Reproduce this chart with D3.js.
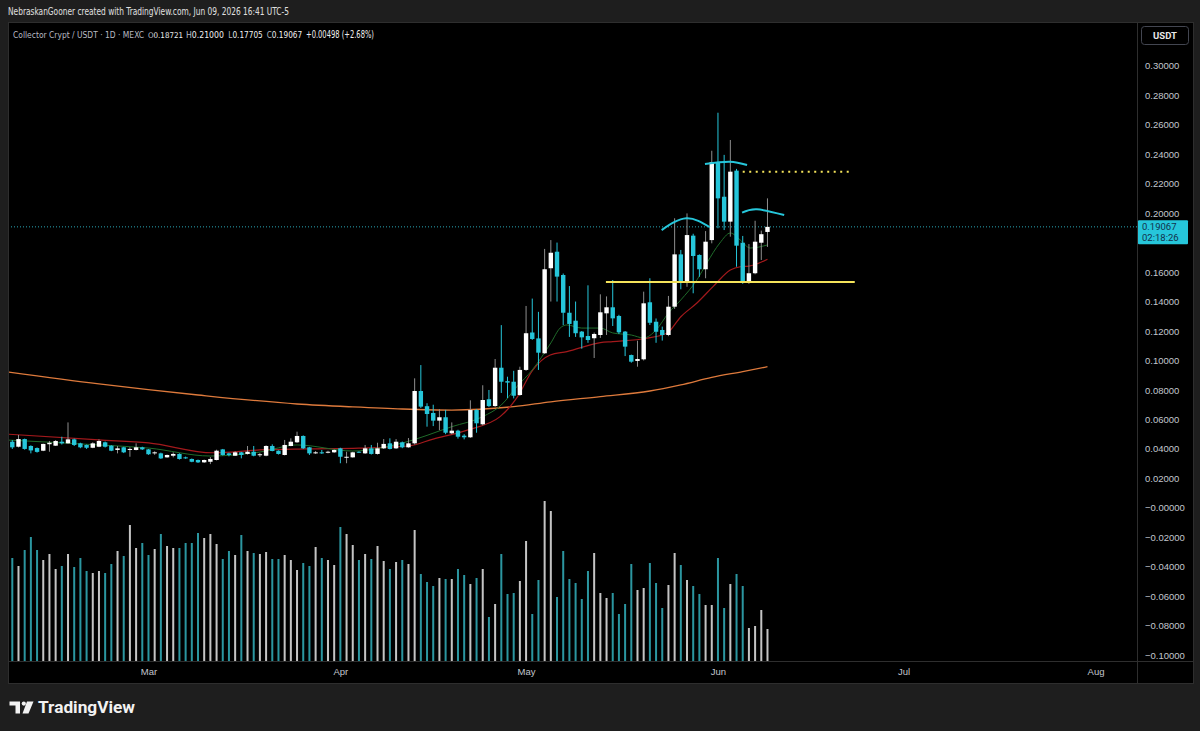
<!DOCTYPE html>
<html>
<head>
<meta charset="utf-8">
<script src="https://cdn.jsdelivr.net/npm/d3@7"></script>
<style>
body { margin: 0; background: #1e1e1e; }
svg { display: block; font-family: Roboto, "Liberation Sans", sans-serif; }
.narrow { font-family: "Liberation Sans Narrow", "DejaVu Sans Condensed", Roboto, sans-serif; }
</style>
</head>
<body>
<svg id="chart" width="1200" height="731"></svg>
<script>
// ---------------------------- DATA ----------------------------
// One daily candle per entry, starting Feb 07 2026 and ending Jun 09 2026
const firstDay = "2026-02-07";

const opens = [
  0.0449, 0.0415, 0.0467, 0.0420, 0.0406, 0.0388, 0.0432, 0.0422, 0.0449, 0.0438,
  0.0465, 0.0438, 0.0427, 0.0408, 0.0415, 0.0445, 0.0422, 0.0393, 0.0411, 0.0393,
  0.0393, 0.0411, 0.0397, 0.0370, 0.0370, 0.0343, 0.0354, 0.0366, 0.0343, 0.0332,
  0.0325, 0.0309, 0.0313, 0.0325, 0.0397, 0.0370, 0.0354, 0.0377, 0.0366, 0.0381,
  0.0359, 0.0354, 0.0420, 0.0388, 0.0359, 0.0420, 0.0445, 0.0488, 0.0411, 0.0370,
  0.0377, 0.0375, 0.0377, 0.0404, 0.0341, 0.0343, 0.0381, 0.0370, 0.0404, 0.0366,
  0.0404, 0.0438, 0.0404, 0.0445, 0.0411, 0.0438, 0.0793, 0.0690, 0.0644, 0.0592,
  0.0615, 0.0506, 0.0524, 0.0490, 0.0479, 0.0664, 0.0567, 0.0737, 0.0691, 0.0951,
  0.0860, 0.0856, 0.0766, 0.0936, 0.1190, 0.1150, 0.1049, 0.1626, 0.1738, 0.1580,
  0.1324, 0.1270, 0.1196, 0.1166, 0.1151, 0.1173, 0.1320, 0.1361, 0.1302, 0.1196,
  0.1037, 0.0997, 0.1008, 0.1395, 0.1263, 0.1207, 0.1173, 0.1365, 0.1720, 0.1535,
  0.1847, 0.1716, 0.1619, 0.1817, 0.2342, 0.2111, 0.1942, 0.2288, 0.1799, 0.1535,
  0.1592, 0.1799, 0.18721
];
const highs = [
  0.0460, 0.0495, 0.0470, 0.0425, 0.0410, 0.0436, 0.0454, 0.0460, 0.0483, 0.0580,
  0.0470, 0.0442, 0.0430, 0.0445, 0.0465, 0.0450, 0.0425, 0.0420, 0.0415, 0.0411,
  0.0438, 0.0415, 0.0400, 0.0384, 0.0375, 0.0362, 0.0377, 0.0370, 0.0348, 0.0335,
  0.0328, 0.0328, 0.0345, 0.0395, 0.0400, 0.0375, 0.0384, 0.0380, 0.0420, 0.0420,
  0.0372, 0.0425, 0.0431, 0.0390, 0.0461, 0.0472, 0.0517, 0.0492, 0.0414, 0.0386,
  0.0393, 0.0388, 0.0397, 0.0408, 0.0381, 0.0381, 0.0384, 0.0427, 0.0427, 0.0442,
  0.0467, 0.0472, 0.0467, 0.0450, 0.0474, 0.0879, 0.0969, 0.0710, 0.0700, 0.0670,
  0.0665, 0.0580, 0.0530, 0.0500, 0.0730, 0.0670, 0.0832, 0.0800, 0.1010, 0.1240,
  0.0890, 0.0930, 0.0958, 0.1370, 0.1420, 0.1330, 0.1757, 0.1817, 0.1800, 0.1590,
  0.1505, 0.1400, 0.1200, 0.1510, 0.1190, 0.1449, 0.1435, 0.1546, 0.1310, 0.1200,
  0.1040, 0.1134, 0.1467, 0.1558, 0.1285, 0.1230, 0.1438, 0.1965, 0.1750, 0.1998,
  0.1860, 0.1720, 0.1878, 0.2423, 0.2681, 0.2395, 0.2496, 0.2300, 0.1845, 0.1790,
  0.1948, 0.1881, 0.21000
];
const lows = [
  0.0400, 0.0410, 0.0395, 0.0370, 0.0375, 0.0385, 0.0381, 0.0420, 0.0430, 0.0436,
  0.0420, 0.0405, 0.0400, 0.0405, 0.0412, 0.0410, 0.0385, 0.0370, 0.0372, 0.0347,
  0.0390, 0.0393, 0.0360, 0.0360, 0.0332, 0.0340, 0.0343, 0.0328, 0.0333, 0.0310,
  0.0305, 0.0305, 0.0297, 0.0322, 0.0355, 0.0350, 0.0352, 0.0336, 0.0362, 0.0350,
  0.0345, 0.0350, 0.0384, 0.0362, 0.0356, 0.0418, 0.0440, 0.0400, 0.0359, 0.0366,
  0.0366, 0.0370, 0.0373, 0.0303, 0.0303, 0.0341, 0.0373, 0.0366, 0.0362, 0.0362,
  0.0400, 0.0397, 0.0400, 0.0405, 0.0408, 0.0430, 0.0678, 0.0551, 0.0555, 0.0527,
  0.0500, 0.0500, 0.0470, 0.0465, 0.0475, 0.0510, 0.0560, 0.0685, 0.0685, 0.0780,
  0.0745, 0.0743, 0.0760, 0.0930, 0.1140, 0.0936, 0.1045, 0.1400, 0.1400, 0.1240,
  0.1160, 0.1160, 0.1080, 0.1120, 0.1017, 0.1153, 0.1173, 0.1234, 0.1180, 0.1030,
  0.0985, 0.0958, 0.1000, 0.1241, 0.1120, 0.1135, 0.1165, 0.1350, 0.1483, 0.1500,
  0.1456, 0.1568, 0.1558, 0.1795, 0.1897, 0.1885, 0.1840, 0.1636, 0.1520, 0.1520,
  0.1585, 0.1682, 0.17705
];
const closes = [
  0.0411, 0.0467, 0.0400, 0.0390, 0.0380, 0.0434, 0.0442, 0.0454, 0.0438, 0.0465,
  0.0427, 0.0411, 0.0408, 0.0438, 0.0454, 0.0415, 0.0388, 0.0404, 0.0377, 0.0400,
  0.0411, 0.0397, 0.0364, 0.0377, 0.0336, 0.0359, 0.0366, 0.0332, 0.0336, 0.0313,
  0.0309, 0.0325, 0.0332, 0.0388, 0.0359, 0.0359, 0.0377, 0.0359, 0.0381, 0.0354,
  0.0364, 0.0420, 0.0386, 0.0366, 0.0427, 0.0449, 0.0488, 0.0404, 0.0370, 0.0377,
  0.0370, 0.0381, 0.0393, 0.0347, 0.0347, 0.0377, 0.0377, 0.0404, 0.0366, 0.0404,
  0.0434, 0.0400, 0.0449, 0.0411, 0.0438, 0.0793, 0.0687, 0.0637, 0.0592, 0.0615,
  0.0510, 0.0524, 0.0483, 0.0479, 0.0664, 0.0574, 0.0732, 0.0691, 0.0951, 0.0856,
  0.0850, 0.0761, 0.0936, 0.1185, 0.1146, 0.1053, 0.1619, 0.1731, 0.1569, 0.1324,
  0.1248, 0.1185, 0.1157, 0.1139, 0.1180, 0.1327, 0.1361, 0.1286, 0.1191, 0.1094,
  0.0992, 0.1010, 0.1388, 0.1256, 0.1195, 0.1173, 0.1365, 0.1720, 0.1535, 0.1851,
  0.1709, 0.1619, 0.1806, 0.2345, 0.2100, 0.1942, 0.2281, 0.1779, 0.1535, 0.1592,
  0.1806, 0.18569, 0.19067
];
// volume, arbitrary units (millions)
const volumes = [
  10.3, 9.5, 11.1, 12.4, 11.1, 10.1, 10.7, 9.2, 9.5, 10.7,
  9.4, 10.3, 9.0, 8.8, 9.0, 8.8, 9.7, 11.0, 10.5, 13.6,
  11.3, 11.8, 10.6, 11.2, 12.7, 11.5, 11.3, 11.3, 11.8, 11.8,
  12.8, 12.3, 12.7, 11.7, 10.2, 11.0, 10.6, 12.6, 11.0, 10.8,
  10.7, 10.9, 10.2, 10.2, 10.6, 10.1, 9.1, 9.8, 9.5, 11.4,
  10.3, 10.1, 9.6, 13.4, 12.7, 11.6, 10.1, 10.7, 10.2, 11.5,
  10.0, 9.2, 9.9, 10.1, 9.7, 13.1, 8.7, 7.9, 7.5, 8.3,
  8.2, 8.2, 9.2, 8.6, 7.7, 8.3, 9.2, 4.4, 5.7, 10.7,
  6.7, 6.8, 8.0, 12.0, 4.7, 8.1, 16.0, 15.0, 6.4, 11.0,
  8.2, 7.8, 6.2, 9.0, 10.8, 6.8, 6.3, 6.8, 4.7, 5.7,
  9.7, 7.1, 7.3, 9.8, 7.8, 5.3, 7.6, 10.8, 9.6, 8.1,
  7.5, 6.7, 5.6, 5.6, 10.3, 5.3, 7.7, 8.7, 7.5, 3.3,
  3.5, 5.1, 3.2
];

// Moving averages, [day index, price]
const maFast = [ // dark green
  [-1, 0.0461], [14, 0.0427], [22, 0.0406], [32, 0.0352], [40, 0.0379], [46, 0.0427],
  [55, 0.0386], [63, 0.0440], [71, 0.0551], [76, 0.0619], [79, 0.0698], [81.5, 0.0822],
  [84, 0.0936], [87, 0.1119], [88.5, 0.1220], [89.6, 0.1241], [92, 0.1220], [95, 0.1220],
  [97, 0.1187], [100, 0.1173], [102, 0.1153], [104, 0.1207], [106, 0.1322], [108, 0.1411],
  [110.6, 0.1547], [112.2, 0.1661], [114.3, 0.1797], [116, 0.1865], [117.6, 0.1818],
  [119.2, 0.1763], [122, 0.1784]
];
const maMid = [ // red
  [-1, 0.0501], [14, 0.0461], [22, 0.0441], [32.4, 0.0374], [40, 0.0393], [48, 0.0400],
  [56, 0.0406], [64, 0.0420], [68, 0.0467], [73.5, 0.0528], [78.8, 0.0619], [81.5, 0.0746],
  [84.1, 0.0936], [86.9, 0.1037], [89.6, 0.1060], [95, 0.1121], [97, 0.1128], [102.5, 0.1151],
  [105.8, 0.1187], [108, 0.1297], [110.6, 0.1390], [113.2, 0.1501], [116, 0.1614],
  [117.6, 0.1636], [119, 0.1640], [122, 0.1687]
];
const maSlow = [ // orange
  [-1, 0.0924], [14, 0.0841], [30, 0.0766], [46, 0.0705], [55, 0.0685], [63, 0.0671],
  [71, 0.0664], [81, 0.0687], [87, 0.0720], [95, 0.0755], [103, 0.0793], [108, 0.0835],
  [113, 0.0885], [118, 0.0925], [122, 0.0958]
];

// Drawings: arcs, support line, target line ([day index, price])
const arcs = [
  [[104.9, 0.1885], [108.9, 0.1965], [112.7, 0.1904]],
  [[111.9, 0.2333], [115.9, 0.2349], [118.7, 0.2326]],
  [[117.9, 0.2003], [120.3, 0.2026], [124.7, 0.1987]]
];
const supportLine = [[95.9, 0.1533], [136.1, 0.1533]];
const targetLine = [[118, 0.2281], [135.8, 0.2281]];

// 0.18 is hidden under the last-price label
const priceTicks = d3.range(-5, 16).filter(k => k !== 9).map(k => k * 0.02);

// ---------------------------- SCALES ----------------------------
const svg = d3.select("#chart");
const plotLeft = 8, plotRight = 1137, plotTop = 22, plotBottom = 661;
const dayW = 6.19, x0 = 12.3;
const startDate = new Date(firstDay + "T00:00:00Z");

const xIdx = d3.scaleLinear().domain([0, 182]).range([x0, x0 + 182 * dayW]);
const xTime = d3.scaleUtc()
    .domain([startDate, d3.utcDay.offset(startDate, 182)])
    .range([x0, x0 + 182 * dayW]);
const y = d3.scaleLinear().domain([-0.10, 0.30]).range([655.3, 65.7]);
const yVol = d3.scaleLinear().domain([0, 16.6]).range([plotBottom, 495]);

const candles = opens.map((o, i) => ({ i, o, h: highs[i], l: lows[i], c: closes[i], v: volumes[i] }));

// shrink a text until it fits the width it has in the reference
function fitText(sel, width) {
    const w = sel.node().getComputedTextLength();
    const size = parseFloat(sel.attr("font-size"));
    if (w > width) sel.attr("font-size", (size * width / w).toFixed(2) + "px");
    return sel;
}

// ---------------------------- FRAME ----------------------------
svg.append("rect").attr("x", 0).attr("y", 0).attr("width", 1200).attr("height", 731).attr("fill", "#1e1e1e");
svg.append("rect").attr("x", 8.5).attr("y", 22.5).attr("width", 1185).attr("height", 661)
    .attr("fill", "#000").attr("stroke", "#2e2e2e");
svg.append("line").attr("x1", plotRight + 0.5).attr("x2", plotRight + 0.5).attr("y1", 22).attr("y2", 684).attr("stroke", "#2e2e2e");
svg.append("line").attr("x1", 8).attr("x2", 1193).attr("y1", plotBottom + 0.5).attr("y2", plotBottom + 0.5).attr("stroke", "#2e2e2e");

svg.append("defs").append("clipPath").attr("id", "plotClip")
    .append("rect").attr("x", plotLeft + 1).attr("y", plotTop + 1)
    .attr("width", plotRight - plotLeft - 1).attr("height", plotBottom - plotTop - 1);

const plot = svg.append("g").attr("clip-path", "url(#plotClip)");

// ---------------------------- VOLUME ----------------------------
plot.append("g").selectAll("rect")
    .data(candles)
    .enter()
    .append("rect")
    .attr("x", d => xIdx(d.i) - 1)
    .attr("width", 2)
    .attr("y", d => yVol(d.v))
    .attr("height", d => plotBottom - yVol(d.v))
    .attr("fill", d => d.c >= d.o ? "#c4c4c4" : "#2b96a0");

// ---------------------------- MOVING AVERAGES ----------------------------
const maLine = d3.line().x(d => xIdx(d[0])).y(d => y(d[1])).curve(d3.curveMonotoneX);
plot.append("path").attr("d", maLine(maSlow)).attr("fill", "none").attr("stroke", "#de7a3c").attr("stroke-width", 1.3);
plot.append("path").attr("d", maLine(maMid)).attr("fill", "none").attr("stroke", "#a3191c").attr("stroke-width", 1.2);
plot.append("path").attr("d", maLine(maFast)).attr("fill", "none").attr("stroke", "#1f6b2a").attr("stroke-width", 1);

// ---------------------------- CURRENT PRICE LINE ----------------------------
const lastClose = closes[closes.length - 1];
const prevClose = closes[closes.length - 2];
plot.append("line")
    .attr("x1", plotLeft).attr("x2", plotRight)
    .attr("y1", y(lastClose)).attr("y2", y(lastClose))
    .attr("stroke", "#2aa6b4").attr("stroke-width", 1).attr("stroke-dasharray", "1,2");

// ---------------------------- CANDLES ----------------------------
const bodyW = 4.4;
const candleG = plot.append("g");
candleG.selectAll("line")
    .data(candles)
    .enter()
    .append("line")
    .attr("x1", d => xIdx(d.i)).attr("x2", d => xIdx(d.i))
    .attr("y1", d => y(d.h)).attr("y2", d => y(d.l))
    .attr("stroke", d => d.c >= d.o ? "#8e8e8e" : "#26c6da")
    .attr("stroke-width", 1);
candleG.selectAll("rect")
    .data(candles)
    .enter()
    .append("rect")
    .attr("x", d => xIdx(d.i) - bodyW / 2)
    .attr("width", bodyW)
    .attr("y", d => y(Math.max(d.o, d.c)))
    .attr("height", d => Math.max(1, Math.abs(y(d.o) - y(d.c))))
    .attr("fill", d => d.c >= d.o ? "#ffffff" : "#26c6da");

// ---------------------------- DRAWINGS ----------------------------
const drawLine = d3.line().x(d => xIdx(d[0])).y(d => y(d[1]));
plot.append("path").attr("d", drawLine(supportLine)).attr("stroke", "#f4e35a").attr("stroke-width", 2).attr("fill", "none");
plot.append("path").attr("d", drawLine(targetLine)).attr("stroke", "#f4e35a").attr("stroke-width", 2)
    .attr("stroke-dasharray", "2,4.5").attr("fill", "none");
const arcLine = d3.line().x(d => xIdx(d[0])).y(d => y(d[1])).curve(d3.curveNatural);
plot.append("g").selectAll("path")
    .data(arcs)
    .enter()
    .append("path")
    .attr("d", d => arcLine(d))
    .attr("fill", "none")
    .attr("stroke", "#26c6da")
    .attr("stroke-width", 2);

// ---------------------------- AXES ----------------------------
const fmtPrice = d => Math.abs(d) < 1e-9 ? "\u22120.00000" : (d < 0 ? "\u2212" + Math.abs(d).toFixed(5) : d.toFixed(5));
const yAxis = svg.append("g")
    .attr("transform", "translate(" + (plotRight + 3) + ",0)")
    .call(d3.axisRight(y).tickValues(priceTicks).tickFormat(fmtPrice).tickSize(0).tickPadding(5));
yAxis.select(".domain").remove();
yAxis.selectAll("text").attr("fill", "#c3c6ce").attr("font-size", "9.5px");

const xAxis = svg.append("g")
    .attr("transform", "translate(0," + plotBottom + ")")
    .call(d3.axisBottom(xTime).ticks(d3.utcMonth.every(1)).tickFormat(d3.utcFormat("%b")).tickSize(0).tickPadding(7));
xAxis.select(".domain").remove();
xAxis.selectAll("text").attr("fill", "#c3c6ce").attr("font-size", "9.5px");

// current price label
const labelY = y(lastClose);
svg.append("rect").attr("x", 1138).attr("y", labelY - 6.5).attr("width", 50).attr("height", 24)
    .attr("rx", 1).attr("fill", "#26c6da");
svg.append("text").attr("x", 1142).attr("y", labelY + 3.3).attr("font-size", "9.5px").attr("fill", "#12304a")
    .text(d3.format(".5f")(lastClose));
svg.append("text").attr("x", 1142).attr("y", labelY + 14.5).attr("font-size", "9.5px").attr("fill", "#12304a")
    .text("02:18:26");

// currency button
svg.append("rect").attr("x", 1141.5).attr("y", 26.5).attr("width", 47).attr("height", 18).attr("rx", 3)
    .attr("fill", "#000").attr("stroke", "#434651");
svg.append("text").attr("x", 1165).attr("y", 39).attr("text-anchor", "middle").attr("font-size", "9.5px")
    .attr("font-weight", "bold").attr("fill", "#e8e8e8").text("USDT");

// ---------------------------- HEADER AND LEGEND ----------------------------
svg.append("text").attr("class", "narrow").attr("x", 8).attr("y", 15)
    .attr("font-size", "11px").attr("fill", "#e0e0e0")
    .attr("textLength", 281).attr("lengthAdjust", "spacingAndGlyphs")
    .text("NebraskanGooner created with TradingView.com, Jun 09, 2026 16:41 UTC-5");

const legend = svg.append("g").attr("class", "narrow");
fitText(legend.append("text").attr("x", 13).attr("y", 37.5).attr("font-size", "10px").attr("fill", "#b8bbc3")
    .text("Collector Crypt / USDT \u00b7 1D \u00b7 MEXC"), 131);

const ohlc = [
  ["O", opens[opens.length - 1], 148, 35],
  ["H", highs[highs.length - 1], 186, 38],
  ["L", lows[lows.length - 1], 228.3, 34.5],
  ["C", lastClose, 266.7, 35.5]
];
ohlc.forEach(d => {
    const t = legend.append("text").attr("x", d[2]).attr("y", 37.5).attr("font-size", "10px");
    t.append("tspan").attr("fill", "#b8bbc3").text(d[0]);
    t.append("tspan").attr("fill", "#f0f0f0").text(d3.format(".5f")(d[1]));
    fitText(t, d[3]);
});
const change = lastClose - prevClose;
legend.append("text").attr("x", 306).attr("y", 37.5).attr("font-size", "10px").attr("fill", "#f0f0f0")
    .attr("textLength", 68).attr("lengthAdjust", "spacingAndGlyphs")
    .text("+" + d3.format(".5f")(change) + " (+" + d3.format(".2%")(change / prevClose) + ")");

// ---------------------------- TRADINGVIEW LOGO ----------------------------
const logo = svg.append("g").attr("fill", "#f2f2f2");
logo.append("path").attr("d", "M9.5,701.5 H20 V713.5 H15.5 V705.5 H9.5 Z");
logo.append("circle").attr("cx", 23.8).attr("cy", 703.6).attr("r", 2.1);
logo.append("path").attr("d", "M27,701.5 H33.5 L28.5,713.5 H22.5 Z");
logo.append("text").attr("x", 38).attr("y", 713).attr("font-size", "16px").attr("font-weight", "bold")
    .attr("textLength", 97).attr("lengthAdjust", "spacingAndGlyphs").text("TradingView");
</script>
</body>
</html>
